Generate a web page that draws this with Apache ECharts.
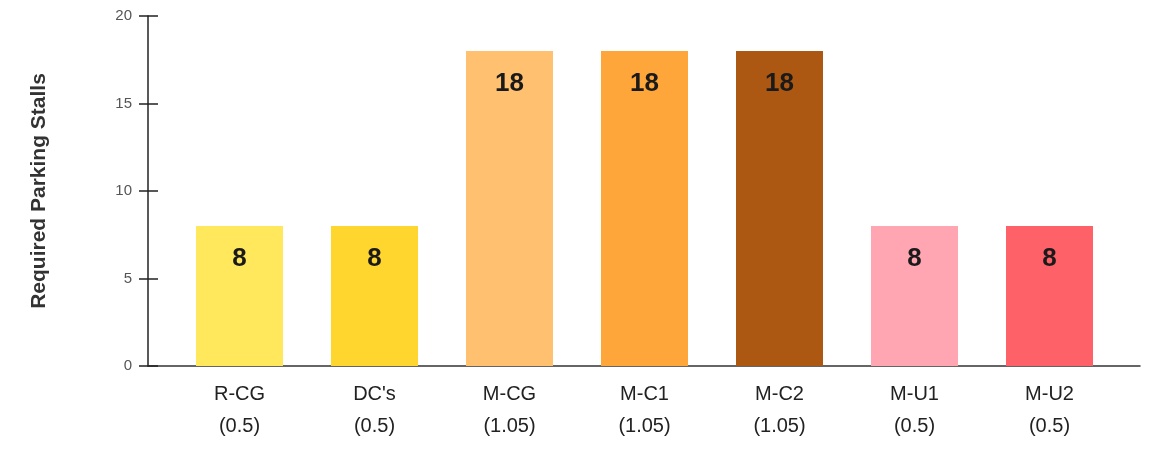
<!DOCTYPE html>
<html>
<head>
<meta charset="utf-8">
<script src="https://cdn.jsdelivr.net/npm/echarts@6/dist/echarts.min.js"></script>
<style>
  html, body { margin: 0; padding: 0; background: #fff; }
  #chart { width: 1150px; height: 451px; }
</style>
</head>
<body>
<div id="chart"></div>
<script>
// zoning categories with their parking ratio
const zones = ['R-CG', "DC's", 'M-CG', 'M-C1', 'M-C2', 'M-U1', 'M-U2'];
const ratios = ['0.5', '0.5', '1.05', '1.05', '1.05', '0.5', '0.5'];
const stalls = [8, 8, 18, 18, 18, 8, 8];
const barColors = ['#FFE85C', '#FFD62E', '#FFC070', '#FFA63A', '#AC5812', '#FFA6B2', '#FF6169'];
const yTicks = [0, 5, 10, 15, 20];

const font = '"Liberation Sans", Arial, sans-serif';
const chart = echarts.init(document.getElementById('chart'));

const yMin = yTicks[0];
const yMax = yTicks[yTicks.length - 1];

const option = {
  animation: false,
  textStyle: { fontFamily: font },
  grid: [
    // axis frame
    { left: 148, right: 10, top: 16, bottom: 85 },
    // bars
    { left: 172, right: 33, top: 16, bottom: 85 }
  ],
  xAxis: [
    {
      gridIndex: 0,
      type: 'value',
      min: 0,
      max: 1,
      axisLine: { show: true, lineStyle: { color: '#333', width: 1.5 } },
      axisTick: { show: false },
      axisLabel: { show: false },
      splitLine: { show: false }
    },
    {
      gridIndex: 1,
      type: 'category',
      data: zones,
      axisLine: { show: false },
      axisTick: { show: false },
      axisLabel: {
        margin: 12,
        color: '#222',
        fontSize: 20,
        lineHeight: 32,
        fontFamily: font,
        formatter: (v, i) => v + '\n(' + ratios[i] + ')'
      }
    }
  ],
  yAxis: [
    {
      gridIndex: 0,
      type: 'value',
      min: yMin,
      max: yMax,
      interval: 5,
      name: 'Required Parking Stalls',
      nameLocation: 'middle',
      nameGap: 98,
      nameTextStyle: { fontSize: 21, fontWeight: 'bold', color: '#333', fontFamily: font },
      axisLine: { show: true, lineStyle: { color: '#222', width: 1.5 } },
      axisTick: { show: true, length: 9, lineStyle: { color: '#222', width: 1.5 } },
      axisLabel: { color: '#555', fontSize: 15, margin: 16, fontFamily: font },
      splitLine: { show: false }
    },
    {
      // inner half of the crossing ticks
      gridIndex: 0,
      type: 'value',
      position: 'left',
      offset: 0,
      min: yMin,
      max: yMax,
      interval: 5,
      axisLine: { show: false },
      axisTick: { show: true, inside: true, length: 10, lineStyle: { color: '#222', width: 1.5 } },
      axisLabel: { show: false },
      splitLine: { show: false }
    },
    {
      gridIndex: 1,
      type: 'value',
      min: yMin,
      max: yMax,
      show: false
    }
  ],
  series: [{
    type: 'bar',
    xAxisIndex: 1,
    yAxisIndex: 2,
    barWidth: 87,
    data: stalls.map((v, i) => ({ value: v, itemStyle: { color: barColors[i] } })),
    label: {
      show: true,
      position: 'insideTop',
      distance: 20,
      color: '#1a1a1a',
      fontSize: 26,
      fontWeight: 'bold',
      fontFamily: font
    }
  }]
};

chart.setOption(option);
</script>
</body>
</html>
